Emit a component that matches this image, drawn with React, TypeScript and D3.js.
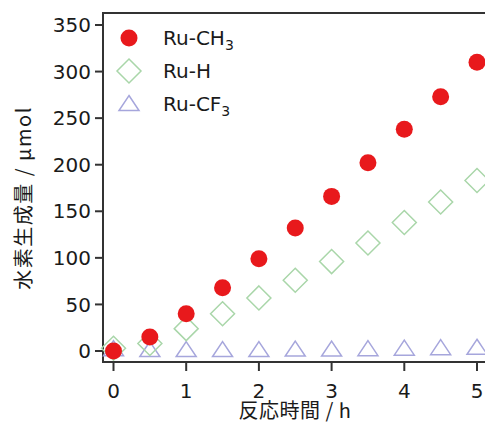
import React, { useEffect, useRef } from 'react';
import * as d3 from 'd3';

const times = [0, 0.5, 1, 1.5, 2, 2.5, 3, 3.5, 4, 4.5, 5];
const ruCH3 = [0, 15, 40, 68, 99, 132, 166, 202, 238, 273, 310];
const ruH = [3, 8, 24, 40, 57, 76, 96, 116, 138, 160, 183];
const ruCF3 = [2, 1, 1, 1, 1, 1.5, 1.5, 2, 2.5, 3, 3.5];
const xTicks = [0, 1, 2, 3, 4, 5];
const yTicks = [0, 50, 100, 150, 200, 250, 300, 350];

function App() {
  const svgRef = useRef<SVGSVGElement>(null);

  useEffect(() => {
    const width = 485, height = 426;
    const svg = d3.select(svgRef.current);
    svg.selectAll('*').remove();
    svg.attr('width', width).attr('height', height);

    const font = '"DejaVu Sans", Verdana, sans-serif';
    const axisColor = '#333';
    const textColor = '#1a1a1a';
    const frameLeft = 103, frameTop = 13, frameBottom = 362;

    const x = d3.scaleLinear().domain([0, 5]).range([113.5, 477]);
    const y = d3.scaleLinear().domain([0, 350]).range([351, 25]);

    // frame: left + bottom axis and top line (right side cut off)
    svg.append('path')
      .attr('d', `M${width},${frameTop}H${frameLeft}V${frameBottom}H${width}`)
      .attr('fill', 'none')
      .attr('stroke', axisColor)
      .attr('stroke-width', 2);

    const yAxis = svg.append('g');
    yAxis.selectAll('line').data(yTicks).join('line')
      .attr('x1', frameLeft - 8).attr('x2', frameLeft)
      .attr('y1', d => y(d)).attr('y2', d => y(d))
      .attr('stroke', axisColor).attr('stroke-width', 2);
    yAxis.selectAll('text').data(yTicks).join('text')
      .attr('x', frameLeft - 12).attr('y', d => y(d))
      .attr('dy', '0.36em')
      .attr('text-anchor', 'end')
      .style('font-family', font).style('font-size', '20px').attr('fill', textColor)
      .text(d => d);

    const xAxis = svg.append('g');
    xAxis.selectAll('line').data(xTicks).join('line')
      .attr('x1', d => x(d)).attr('x2', d => x(d))
      .attr('y1', frameBottom).attr('y2', frameBottom + 9)
      .attr('stroke', axisColor).attr('stroke-width', 2);
    xAxis.selectAll('text').data(xTicks).join('text')
      .attr('x', d => x(d)).attr('y', 398)
      .attr('text-anchor', 'middle')
      .style('font-family', font).style('font-size', '20px').attr('fill', textColor)
      .text(d => d);

    const cjk = '"Noto Sans CJK JP", "DejaVu Sans", sans-serif';
    svg.append('text')
      .attr('x', 295).attr('y', 418)
      .attr('text-anchor', 'middle')
      .style('font-family', cjk).style('font-size', '20px').attr('fill', textColor)
      .style('letter-spacing', '0.5px')
      .text('反応時間 / h');
    svg.append('text')
      .attr('transform', 'translate(31,198) rotate(-90)')
      .attr('text-anchor', 'middle')
      .style('font-family', cjk).style('font-size', '20px').attr('fill', textColor)
      .style('letter-spacing', '1.5px')
      .text('水素生成量 / μmol');

    const red = '#e8191c', green = '#a9d6a9', blue = '#a6a6dc';
    const diamond = (cx: number, cy: number, r: number) =>
      `M${cx},${cy - r}L${cx + r},${cy}L${cx},${cy + r}L${cx - r},${cy}Z`;
    const triangle = (cx: number, cy: number, s: number) =>
      `M${cx},${cy - s * 0.85}L${cx + s},${cy + s * 0.65}L${cx - s},${cy + s * 0.65}Z`;

    const plot = svg.append('g');
    plot.selectAll('.cf3').data(times).join('path')
      .attr('class', 'cf3')
      .attr('d', (d, i) => triangle(x(d), y(ruCF3[i]), 10))
      .attr('fill', 'none').attr('stroke', blue).attr('stroke-width', 1.5);
    plot.selectAll('.h').data(times).join('path')
      .attr('class', 'h')
      .attr('d', (d, i) => diamond(x(d), y(ruH[i]), 12))
      .attr('fill', 'none').attr('stroke', green).attr('stroke-width', 1.5);
    plot.selectAll('.ch3').data(times).join('circle')
      .attr('class', 'ch3')
      .attr('cx', d => x(d)).attr('cy', (d, i) => y(ruCH3[i]))
      .attr('r', 8.5).attr('fill', red);

    // legend
    const lx = 129, ly = 38, gap = 33, tx = 163;
    const legend = svg.append('g').style('font-family', font).style('font-size', '20px').attr('fill', textColor);
    legend.append('circle').attr('cx', lx).attr('cy', ly).attr('r', 8.5).attr('fill', red);
    legend.append('path').attr('d', diamond(lx, ly + gap, 12))
      .attr('fill', 'none').attr('stroke', green).attr('stroke-width', 1.5);
    legend.append('path').attr('d', triangle(lx, ly + gap * 2, 10))
      .attr('fill', 'none').attr('stroke', blue).attr('stroke-width', 1.5);

    const t1 = legend.append('text').attr('x', tx).attr('y', ly + 7);
    t1.append('tspan').text('Ru-CH');
    t1.append('tspan').attr('dy', 5).style('font-size', '14px').text('3');
    legend.append('text').attr('x', tx).attr('y', ly + gap + 7).text('Ru-H');
    const t3 = legend.append('text').attr('x', tx).attr('y', ly + gap * 2 + 7);
    t3.append('tspan').text('Ru-CF');
    t3.append('tspan').attr('dy', 5).style('font-size', '14px').text('3');
  }, []);

  return <svg ref={svgRef} style={{ position: 'absolute', left: 0, top: 0 }}></svg>;
}

export default App;
